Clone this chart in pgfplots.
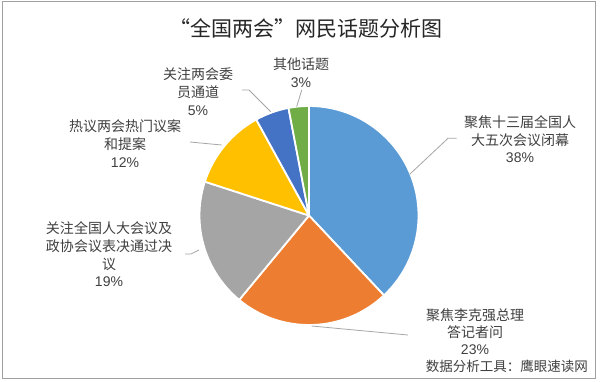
\documentclass[border=0pt]{standalone}
\usepackage{pgfplots}
\pgfplotsset{compat=1.18}
\usepackage{fontspec}
\setmainfont{Liberation Sans}
\newfontfamily\cjk{Noto Sans CJK SC}
\definecolor{c1}{HTML}{5B9BD5}
\definecolor{c2}{HTML}{ED7D31}
\definecolor{c3}{HTML}{A5A5A5}
\definecolor{c4}{HTML}{FFC000}
\definecolor{c5}{HTML}{4472C4}
\definecolor{c6}{HTML}{70AD47}
\definecolor{txt}{HTML}{404040}
\definecolor{ttl}{HTML}{262626}
\definecolor{lead}{HTML}{A6A6A6}
\definecolor{frame}{HTML}{A0A0A0}
% pie centre and radius (axis units = bp)
\def\cx{309}\def\cy{215.5}\def\rr{109.5}
% \slice{cumulative start %}{share %}{colour}
\newcommand\slice[3]{%
  \fill[#3,draw=white,line width=1.8bp,line join=round]
    (axis cs:\cx,\cy) --
    (axis cs:{\cx+\rr*cos(90-3.6*#1)},{\cy-\rr*sin(90-3.6*#1)})
    arc[start angle={90-3.6*#1}, end angle={90-3.6*(#1+#2)}, radius=\rr bp] -- cycle;}
\begin{document}
\begin{tikzpicture}
\begin{axis}[hide axis, scale only axis, width=600bp, height=381bp,
  xmin=0, xmax=600, ymin=0, ymax=381, y dir=reverse, clip=false]
\path (axis cs:0,0) rectangle (axis cs:600,381);
\fill[white] (axis cs:0,0) rectangle (axis cs:600,381);
\draw[frame, line width=1bp] (axis cs:2,2) rectangle (axis cs:595,378);
% slices: 38, 23, 19, 12, 5, 3 (%)
\slice{0}{38}{c1}
\slice{38}{23}{c2}
\slice{61}{19}{c3}
\slice{80}{12}{c4}
\slice{92}{5}{c5}
\slice{97}{3}{c6}
% leader lines
\draw[lead, line width=0.8bp] (axis cs:456.7,138.3) -- (axis cs:448,138.3) -- (axis cs:410,174);
\draw[lead, line width=0.8bp] (axis cs:408,335) -- (axis cs:311.7,326);
\draw[lead, line width=0.8bp] (axis cs:185,254) -- (axis cs:191,254) -- (axis cs:199,250);
\draw[lead, line width=0.8bp] (axis cs:190,142) -- (axis cs:221.7,145);
\draw[lead, line width=0.8bp] (axis cs:242,90) -- (axis cs:249,90) -- (axis cs:270.7,111.7);
\draw[lead, line width=0.8bp] (axis cs:301.7,90) -- (axis cs:296.7,106.7);
% title
\node[ttl, font=\cjk\fontsize{21bp}{25bp}\selectfont] at (axis cs:306,28) {“全国两会”网民话题分析图};
% labels
\tikzset{lbl/.style={txt, align=center, font=\fontsize{14bp}{17.7bp}\selectfont, inner sep=0pt}}
\node[lbl] at (axis cs:520,139.3) {{\cjk 聚焦十三届全国人}\\{\cjk 大五次会议闭幕}\\38\%};
\node[lbl, font=\fontsize{14bp}{17bp}\selectfont] at (axis cs:475,332) {{\cjk 聚焦李克强总理}\\{\cjk 答记者问}\\23\%};
\node[lbl] at (axis cs:109,254.5) {{\cjk 关注全国人大会议及}\\{\cjk 政协会议表决通过决}\\{\cjk 议}\\19\%};
\node[lbl] at (axis cs:125,143.5) {{\cjk 热议两会热门议案}\\{\cjk 和提案}\\12\%};
\node[lbl] at (axis cs:198,91.5) {{\cjk 关注两会委}\\{\cjk 员通道}\\5\%};
\node[lbl] at (axis cs:301,73) {{\cjk 其他话题}\\3\%};
\node[txt, anchor=east, inner sep=0pt, font=\cjk\fontsize{13.5bp}{17bp}\selectfont] at (axis cs:588,366) {数据分析工具：鹰眼速读网};
\end{axis}
\end{tikzpicture}
\end{document}
